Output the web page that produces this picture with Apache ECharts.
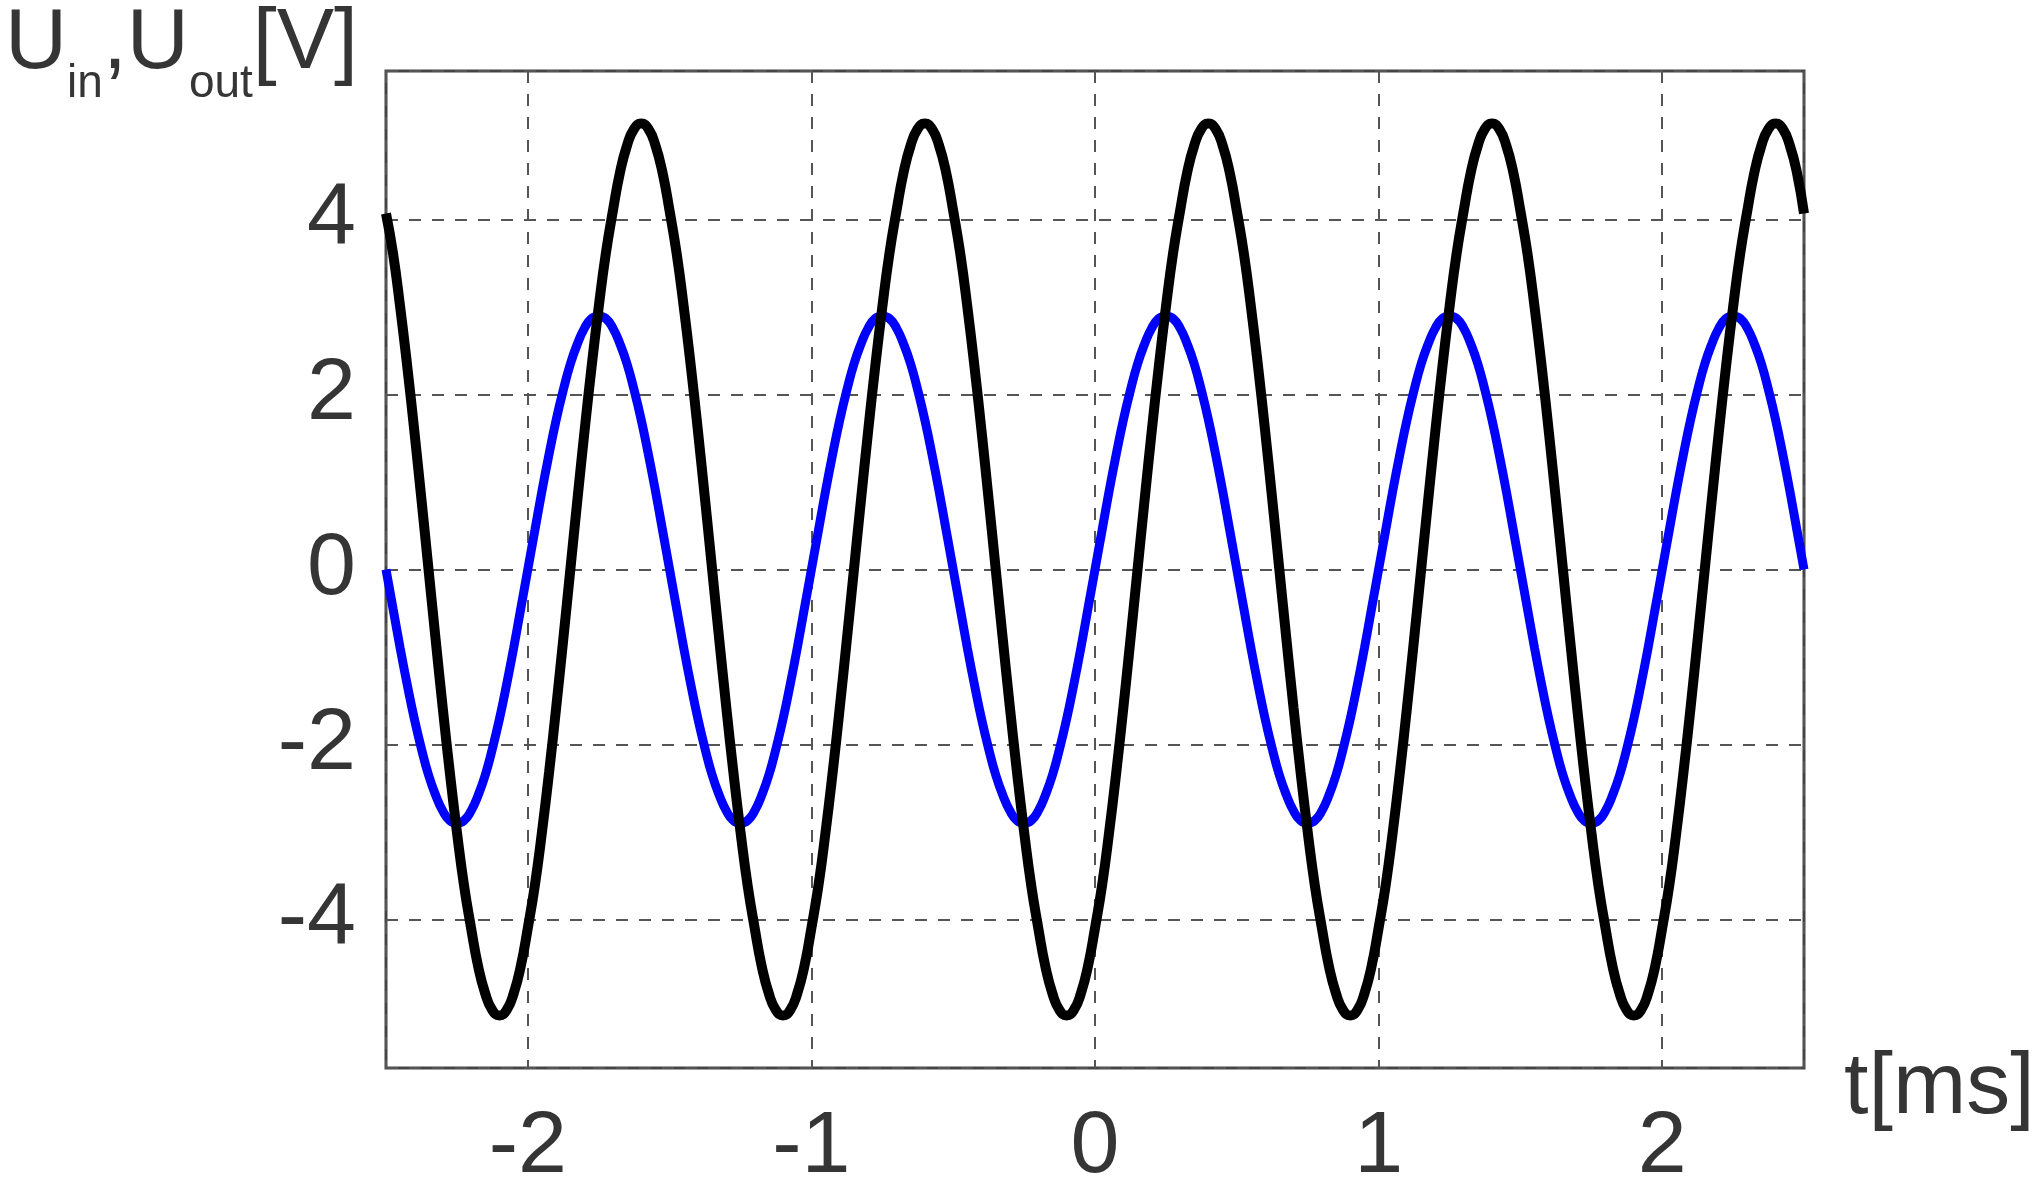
<!DOCTYPE html>
<html lang="en">
<head>
    <meta charset="UTF-8">
    <title>Uin / Uout</title>
    <script src="https://cdn.jsdelivr.net/npm/echarts@6/dist/echarts.min.js"></script>
    <style>
        html, body { margin: 0; padding: 0; background: #fff; }
    </style>
</head>
<body>
    <div style="height: 1204px;width: 2044px" id="chartBox"></div>
    <script type="text/javascript">
        // time axis [ms]
        var times = [
            -2.5, -2.475, -2.45, -2.425, -2.4, -2.375, -2.35, -2.325, -2.3, -2.275,
            -2.25, -2.225, -2.2, -2.175, -2.15, -2.125, -2.1, -2.075, -2.05, -2.025,
            -2.0, -1.975, -1.95, -1.925, -1.9, -1.875, -1.85, -1.825, -1.8, -1.775,
            -1.75, -1.725, -1.7, -1.675, -1.65, -1.625, -1.6, -1.575, -1.55, -1.525,
            -1.5, -1.475, -1.45, -1.425, -1.4, -1.375, -1.35, -1.325, -1.3, -1.275,
            -1.25, -1.225, -1.2, -1.175, -1.15, -1.125, -1.1, -1.075, -1.05, -1.025,
            -1.0, -0.975, -0.95, -0.925, -0.9, -0.875, -0.85, -0.825, -0.8, -0.775,
            -0.75, -0.725, -0.7, -0.675, -0.65, -0.625, -0.6, -0.575, -0.55, -0.525,
            -0.5, -0.475, -0.45, -0.425, -0.4, -0.375, -0.35, -0.325, -0.3, -0.275,
            -0.25, -0.225, -0.2, -0.175, -0.15, -0.125, -0.1, -0.075, -0.05, -0.025,
            0, 0.025, 0.05, 0.075, 0.1, 0.125, 0.15, 0.175, 0.2, 0.225,
            0.25, 0.275, 0.3, 0.325, 0.35, 0.375, 0.4, 0.425, 0.45, 0.475,
            0.5, 0.525, 0.55, 0.575, 0.6, 0.625, 0.65, 0.675, 0.7, 0.725,
            0.75, 0.775, 0.8, 0.825, 0.85, 0.875, 0.9, 0.925, 0.95, 0.975,
            1.0, 1.025, 1.05, 1.075, 1.1, 1.125, 1.15, 1.175, 1.2, 1.225,
            1.25, 1.275, 1.3, 1.325, 1.35, 1.375, 1.4, 1.425, 1.45, 1.475,
            1.5, 1.525, 1.55, 1.575, 1.6, 1.625, 1.65, 1.675, 1.7, 1.725,
            1.75, 1.775, 1.8, 1.825, 1.85, 1.875, 1.9, 1.925, 1.95, 1.975,
            2.0, 2.025, 2.05, 2.075, 2.1, 2.125, 2.15, 2.175, 2.2, 2.225,
            2.25, 2.275, 2.3, 2.325, 2.35, 2.375, 2.4, 2.425, 2.45, 2.475,
            2.5
        ];

        // Uin [V] (blue)
        var uIn = [
            0, -0.45, -0.90, -1.32, -1.71, -2.05, -2.35, -2.58, -2.76, -2.87,
            -2.9, -2.87, -2.76, -2.58, -2.35, -2.05, -1.71, -1.32, -0.90, -0.45,
            0, 0.45, 0.90, 1.32, 1.71, 2.05, 2.35, 2.58, 2.76, 2.87,
            2.9, 2.87, 2.76, 2.58, 2.35, 2.05, 1.71, 1.32, 0.90, 0.45,
            0, -0.45, -0.90, -1.32, -1.71, -2.05, -2.35, -2.58, -2.76, -2.87,
            -2.9, -2.87, -2.76, -2.58, -2.35, -2.05, -1.71, -1.32, -0.90, -0.45,
            0, 0.45, 0.90, 1.32, 1.71, 2.05, 2.35, 2.58, 2.76, 2.87,
            2.9, 2.87, 2.76, 2.58, 2.35, 2.05, 1.71, 1.32, 0.90, 0.45,
            0, -0.45, -0.90, -1.32, -1.71, -2.05, -2.35, -2.58, -2.76, -2.87,
            -2.9, -2.87, -2.76, -2.58, -2.35, -2.05, -1.71, -1.32, -0.90, -0.45,
            0, 0.45, 0.90, 1.32, 1.71, 2.05, 2.35, 2.58, 2.76, 2.87,
            2.9, 2.87, 2.76, 2.58, 2.35, 2.05, 1.71, 1.32, 0.90, 0.45,
            0, -0.45, -0.90, -1.32, -1.71, -2.05, -2.35, -2.58, -2.76, -2.87,
            -2.9, -2.87, -2.76, -2.58, -2.35, -2.05, -1.71, -1.32, -0.90, -0.45,
            0, 0.45, 0.90, 1.32, 1.71, 2.05, 2.35, 2.58, 2.76, 2.87,
            2.9, 2.87, 2.76, 2.58, 2.35, 2.05, 1.71, 1.32, 0.90, 0.45,
            0, -0.45, -0.90, -1.32, -1.71, -2.05, -2.35, -2.58, -2.76, -2.87,
            -2.9, -2.87, -2.76, -2.58, -2.35, -2.05, -1.71, -1.32, -0.90, -0.45,
            0, 0.45, 0.90, 1.32, 1.71, 2.05, 2.35, 2.58, 2.76, 2.87,
            2.9, 2.87, 2.76, 2.58, 2.35, 2.05, 1.71, 1.32, 0.90, 0.45,
            0
        ];

        // Uout [V] (black)
        var uOut = [
            4.07, 3.61, 3.0, 2.32, 1.58, 0.8, 0, -0.8, -1.58, -2.32,
            -3.0, -3.61, -4.1, -4.54, -4.85, -5.04, -5.1, -5.04, -4.85, -4.54,
            -4.1, -3.61, -3.0, -2.32, -1.58, -0.8, 0, 0.8, 1.58, 2.32,
            3.0, 3.61, 4.1, 4.54, 4.85, 5.04, 5.1, 5.04, 4.85, 4.54,
            4.1, 3.61, 3.0, 2.32, 1.58, 0.8, 0, -0.8, -1.58, -2.32,
            -3.0, -3.61, -4.1, -4.54, -4.85, -5.04, -5.1, -5.04, -4.85, -4.54,
            -4.1, -3.61, -3.0, -2.32, -1.58, -0.8, 0, 0.8, 1.58, 2.32,
            3.0, 3.61, 4.1, 4.54, 4.85, 5.04, 5.1, 5.04, 4.85, 4.54,
            4.1, 3.61, 3.0, 2.32, 1.58, 0.8, 0, -0.8, -1.58, -2.32,
            -3.0, -3.61, -4.1, -4.54, -4.85, -5.04, -5.1, -5.04, -4.85, -4.54,
            -4.1, -3.61, -3.0, -2.32, -1.58, -0.8, 0, 0.8, 1.58, 2.32,
            3.0, 3.61, 4.1, 4.54, 4.85, 5.04, 5.1, 5.04, 4.85, 4.54,
            4.1, 3.61, 3.0, 2.32, 1.58, 0.8, 0, -0.8, -1.58, -2.32,
            -3.0, -3.61, -4.1, -4.54, -4.85, -5.04, -5.1, -5.04, -4.85, -4.54,
            -4.1, -3.61, -3.0, -2.32, -1.58, -0.8, 0, 0.8, 1.58, 2.32,
            3.0, 3.61, 4.1, 4.54, 4.85, 5.04, 5.1, 5.04, 4.85, 4.54,
            4.1, 3.61, 3.0, 2.32, 1.58, 0.8, 0, -0.8, -1.58, -2.32,
            -3.0, -3.61, -4.1, -4.54, -4.85, -5.04, -5.1, -5.04, -4.85, -4.54,
            -4.1, -3.61, -3.0, -2.32, -1.58, -0.8, 0, 0.8, 1.58, 2.32,
            3.0, 3.61, 4.1, 4.54, 4.85, 5.04, 5.1, 5.04, 4.85, 4.54,
            4.07
        ];

        var xTicks = [-2, -1, 0, 1, 2];
        var yTicks = [-4, -2, 0, 2, 4];

        var font = '"Liberation Sans", Arial, sans-serif';
        var textColor = '#353535';

        function pairs(ys) {
            return times.map(function (t, i) { return [t, ys[i]]; });
        }

        var myChart = echarts.init(document.getElementById('chartBox'));

        var option = {
            animation: false,
            backgroundColor: '#fff',
            grid: {
                left: 386,
                right: 240,
                top: 71,
                bottom: 136,
                show: true,
                borderColor: '#444',
                borderWidth: 3
            },
            xAxis: {
                type: 'value',
                min: -2.5,
                max: 2.5,
                name: 't[ms]',
                nameLocation: 'end',
                nameGap: 40,
                nameTextStyle: {
                    fontFamily: font,
                    fontSize: 88,
                    lineHeight: 42,
                    color: textColor,
                    align: 'left',
                    verticalAlign: 'top'
                },
                axisLine: { show: false, onZero: false },
                axisTick: { show: false },
                axisLabel: {
                    margin: 36,
                    fontFamily: font,
                    fontSize: 88,
                    color: textColor,
                    showMinLabel: false,
                    showMaxLabel: false,
                    formatter: function (v) {
                        return xTicks.indexOf(v) >= 0 ? String(v) : '';
                    }
                },
                splitLine: {
                    show: true,
                    lineStyle: { color: '#555', width: 2, type: [12, 11] }
                }
            },
            yAxis: {
                type: 'value',
                min: -5.7,
                max: 5.7,
                name: '{m|U}{s|in}{m|,U}{s|out}{m|[V]}',
                nameLocation: 'end',
                nameGap: 70,
                nameTextStyle: {
                    align: 'right',
                    verticalAlign: 'top',
                    padding: [0, 28, 0, 0],
                    color: textColor,
                    rich: {
                        m: {
                            fontFamily: font,
                            fontSize: 86,
                            lineHeight: 86,
                            color: textColor,
                            verticalAlign: 'top'
                        },
                        s: {
                            fontFamily: font,
                            fontSize: 46,
                            lineHeight: 46,
                            color: textColor,
                            verticalAlign: 'top',
                            padding: [60, 0, 0, 0]
                        }
                    }
                },
                axisLine: { show: false, onZero: false },
                axisTick: { show: false },
                axisLabel: {
                    margin: 30,
                    fontFamily: font,
                    fontSize: 88,
                    color: textColor,
                    showMinLabel: false,
                    showMaxLabel: false,
                    formatter: function (v) {
                        return yTicks.indexOf(v) >= 0 ? String(v) : '';
                    }
                },
                splitLine: {
                    show: true,
                    lineStyle: { color: '#555', width: 2, type: [12, 11] }
                }
            },
            series: [
                {
                    name: 'Uin',
                    type: 'line',
                    data: pairs(uIn),
                    smooth: true,
                    showSymbol: false,
                    lineStyle: { color: '#0000ff', width: 9 }
                },
                {
                    name: 'Uout',
                    type: 'line',
                    data: pairs(uOut),
                    smooth: true,
                    showSymbol: false,
                    lineStyle: { color: '#000', width: 10 }
                }
            ]
        };

        myChart.setOption(option);
    </script>
</body>
</html>
